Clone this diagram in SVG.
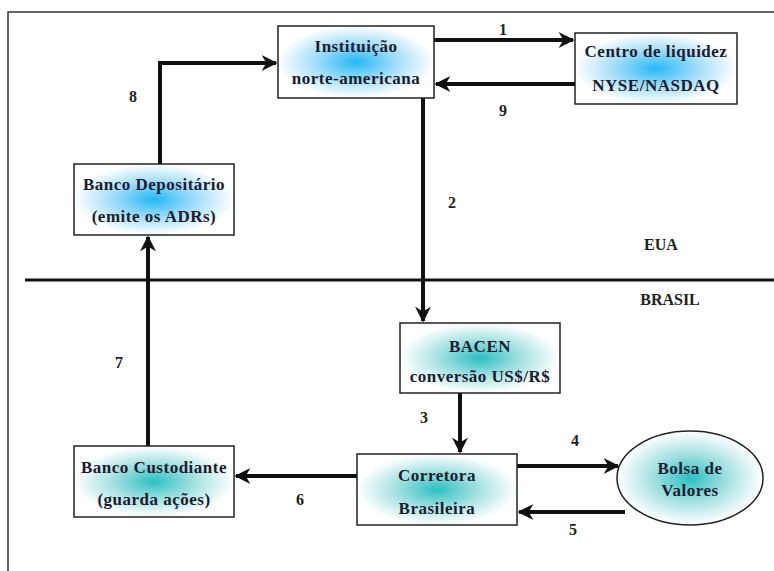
<svg xmlns="http://www.w3.org/2000/svg" width="774" height="571" viewBox="0 0 774 571" font-family="Liberation Serif, DejaVu Serif, serif">
<defs>
<radialGradient id="gb" cx="50%" cy="50%" r="50%" fx="50%" fy="50%">
<stop offset="0" stop-color="#25b8f5"/>
<stop offset="0.5" stop-color="#9edcfa"/>
<stop offset="1" stop-color="#ffffff"/>
</radialGradient>
<radialGradient id="gt" cx="50%" cy="50%" r="50%">
<stop offset="0" stop-color="#2cbfc2"/>
<stop offset="0.5" stop-color="#a2e0e1"/>
<stop offset="1" stop-color="#ffffff"/>
</radialGradient>
<marker id="ah" viewBox="0 0 10 10" refX="9" refY="5" markerWidth="4" markerHeight="4" orient="auto" markerUnits="strokeWidth">
<path d="M0,0 L10,5 L0,10 L3,5 Z" fill="#111"/>
</marker>
<style>
.box{stroke:#222;stroke-width:1.5}
.t{font-weight:bold;font-size:17px;letter-spacing:0.5px;fill:#1c1c30;text-anchor:middle}
.c{fill:none;stroke:#111;stroke-width:4;marker-end:url(#ah)}
.l{font-weight:bold;font-size:16px;fill:#222;text-anchor:middle}
</style>
</defs>
<rect x="0" y="0" width="774" height="571" fill="#ffffff"/>
<rect x="8" y="12" width="800" height="600" fill="none" stroke="#333" stroke-width="1.5"/>
<line x1="25" y1="280" x2="774" y2="280" stroke="#111" stroke-width="3"/>
<text class="l" x="661" y="250" font-family="Liberation Serif">EUA</text>
<text class="l" x="670" y="305" font-family="Liberation Serif">BRASIL</text>
<g id="connectors" font-family="Liberation Serif">
<path class="c" d="M434,40 H573"/>
<path class="c" d="M575,84 H436"/>
<path class="c" d="M160,164 V63 H276"/>
<path class="c" d="M423,98 V321"/>
<path class="c" d="M460,393 V452"/>
<path class="c" d="M517,466 H618"/>
<path class="c" d="M625,512 H519"/>
<path class="c" d="M357,476 H236"/>
<path class="c" d="M148,446 V237"/>
<text class="l" x="503" y="35">1</text>
<text class="l" x="503" y="116">9</text>
<text class="l" x="133" y="102">8</text>
<text class="l" x="452" y="208">2</text>
<text class="l" x="424" y="423">3</text>
<text class="l" x="575" y="446">4</text>
<text class="l" x="573" y="535">5</text>
<text class="l" x="300" y="505">6</text>
<text class="l" x="119" y="368">7</text>
</g>
<g id="instituicao" font-family="Liberation Serif">
<rect class="box" x="278" y="26" width="156" height="72" fill="url(#gb)"/>
<text class="t" x="356" y="52">Instituição</text>
<text class="t" x="356" y="84">norte-americana</text>
</g>
<g id="centro" font-family="Liberation Serif">
<rect class="box" x="575" y="33" width="162" height="71" fill="url(#gb)"/>
<text class="t" x="656" y="57">Centro de liquidez</text>
<text class="t" x="656" y="91">NYSE/NASDAQ</text>
</g>
<g id="depositario" font-family="Liberation Serif">
<rect class="box" x="74" y="164" width="160" height="71" fill="url(#gb)"/>
<text class="t" x="154" y="190">Banco Depositário</text>
<text class="t" x="154" y="222">(emite os ADRs)</text>
</g>
<g id="bacen" font-family="Liberation Serif">
<rect class="box" x="400" y="323" width="160" height="70" fill="url(#gt)"/>
<text class="t" x="480" y="352">BACEN</text>
<text class="t" x="480" y="382">conversão US$/R$</text>
</g>
<g id="custodiante" font-family="Liberation Serif">
<rect class="box" x="74" y="446" width="160" height="71" fill="url(#gt)"/>
<text class="t" x="154" y="473">Banco Custodiante</text>
<text class="t" x="154" y="505">(guarda ações)</text>
</g>
<g id="corretora" font-family="Liberation Serif">
<rect class="box" x="357" y="454" width="160" height="71" fill="url(#gt)"/>
<text class="t" x="437" y="481">Corretora</text>
<text class="t" x="437" y="514">Brasileira</text>
</g>
<g id="bolsa" font-family="Liberation Serif">
<ellipse class="box" cx="690" cy="478" rx="73" ry="47" fill="url(#gt)"/>
<text class="t" x="690" y="474">Bolsa de</text>
<text class="t" x="690" y="496">Valores</text>
</g>
</svg>
